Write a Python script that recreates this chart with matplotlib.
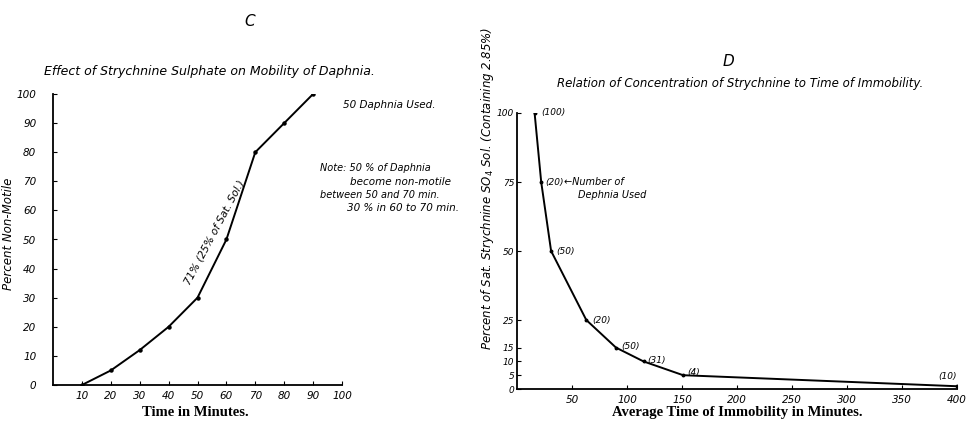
import matplotlib
matplotlib.use("Agg")
import matplotlib.pyplot as plt

# panel C: time (min) vs percent non-motile
time_min = [10, 20, 30, 40, 50, 60, 70, 80, 90]
pct_non_motile = [0, 5, 12, 20, 30, 50, 80, 90, 100]
c_xticks = [10, 20, 30, 40, 50, 60, 70, 80, 90, 100]
c_yticks = [0, 10, 20, 30, 40, 50, 60, 70, 80, 90, 100]

# panel D: average time of immobility vs concentration
avg_time = [16, 22, 31, 63, 90, 115, 151, 400]
concentration = [100, 75, 50, 25, 15, 10, 5, 1]
n_daphnia = ["(100)", "(20)", "(50)", "(20)", "(50)", "(31)", "(4)", "(10)"]
d_xticks = [50, 100, 150, 200, 250, 300, 350, 400]
d_yticks = [0, 5, 10, 15, 25, 50, 75, 100]

W, H = 967, 423
fig = plt.figure(figsize=(W / 100, H / 100), dpi=100)
fig.patch.set_facecolor("white")

hand = dict(family="DejaVu Sans", style="italic", color="black")
serif = dict(family="Liberation Serif", weight="bold", color="black")


def box(x0, y0, x1, y1):
    # pixel box (top-left origin) -> figure fraction
    return [x0 / W, 1 - y1 / H, (x1 - x0) / W, (y1 - y0) / H]


def ftext(x, y, s, size, ha="left", **kw):
    # text placed in pixel coords of the figure
    fig.text(x / W, 1 - y / H, s, fontsize=size, ha=ha, va="center", **kw)


def style_axes(ax):
    for s in ["top", "right"]:
        ax.spines[s].set_visible(False)
    for s in ["left", "bottom"]:
        ax.spines[s].set_linewidth(1.3)
    ax.tick_params(direction="in", length=3, width=0.8, labelsize=7.5, pad=4)
    for lab in ax.get_xticklabels() + ax.get_yticklabels():
        lab.set_fontstyle("italic")


# ---- C ----
axc = fig.add_axes(box(53, 94, 342, 385))
axc.plot(time_min, pct_non_motile, color="black", lw=1.4, marker="o", ms=2.2)
axc.set_xlim(0, 100)
axc.set_ylim(0, 100)
axc.set_xticks(c_xticks)
axc.set_yticks(c_yticks)
style_axes(axc)
axc.tick_params(axis="y", pad=12)
axc.set_ylabel("Percent Non-Motile", fontsize=8.5, **hand)
axc.yaxis.set_label_coords((15 - 53) / 289, 0.52)

ftext(195, 412, "Time in Minutes.", 10.5, ha="center", **serif)
ftext(250, 21, "C", 11, ha="center", **hand)
ftext(209, 71, "Effect of Strychnine Sulphate on Mobility of Daphnia.", 9, ha="center", **hand)
ftext(343, 105, "50 Daphnia Used.", 7.5, **hand)
ftext(320, 168, "Note: 50 % of Daphnia", 7, **hand)
ftext(350, 182, "become non-motile", 7.5, **hand)
ftext(320, 195, "between 50 and 70 min.", 7, **hand)
ftext(347, 208, "30 % in 60 to 70 min.", 7.5, **hand)
fig.text(214 / W, 1 - 232 / H, "71% (25% of Sat. Sol.)", fontsize=7.5, rotation=62,
         ha="center", va="center", **hand)

# ---- D ----
axd = fig.add_axes(box(517, 113, 957, 389))
axd.plot(avg_time, concentration, color="black", lw=1.4, marker="o", ms=1.8)
axd.set_xlim(0, 400)
axd.set_ylim(0, 100)
axd.set_xticks(d_xticks)
axd.set_yticks(d_yticks)
style_axes(axd)
axd.tick_params(axis="y", labelsize=6.5, pad=2)
axd.set_ylabel("Percent of Sat. Strychnine SO$_4$ Sol. (Containing 2.85%)",
               fontsize=8.5, **hand)
axd.yaxis.set_label_coords((496 - 517) / 440, (389 - 188) / 276)

offsets = [(5, 0), (3, 0), (4, 0), (4, 0), (4, 1), (3, 1), (3, 2), (-7, 7)]
for x, y, lab, off in zip(avg_time, concentration, n_daphnia, offsets):
    ha = "center" if off[0] < 0 else "left"
    axd.annotate(lab, (x, y), xytext=off, textcoords="offset points",
                 fontsize=6.5, ha=ha, va="center", **hand)

ftext(564, 182, "\u2190Number of", 7, **hand)
ftext(578, 195, "Dephnia Used", 7, **hand)
ftext(728, 62, "D", 11, ha="center", **hand)
ftext(740, 83, "Relation of Concentration of Strychnine to Time of Immobility.", 8.5,
      ha="center", **hand)
ftext(737, 412, "Average Time of Immobility in Minutes.", 10.5, ha="center", **serif)

fig.savefig("out.png", dpi=100, facecolor="white")
